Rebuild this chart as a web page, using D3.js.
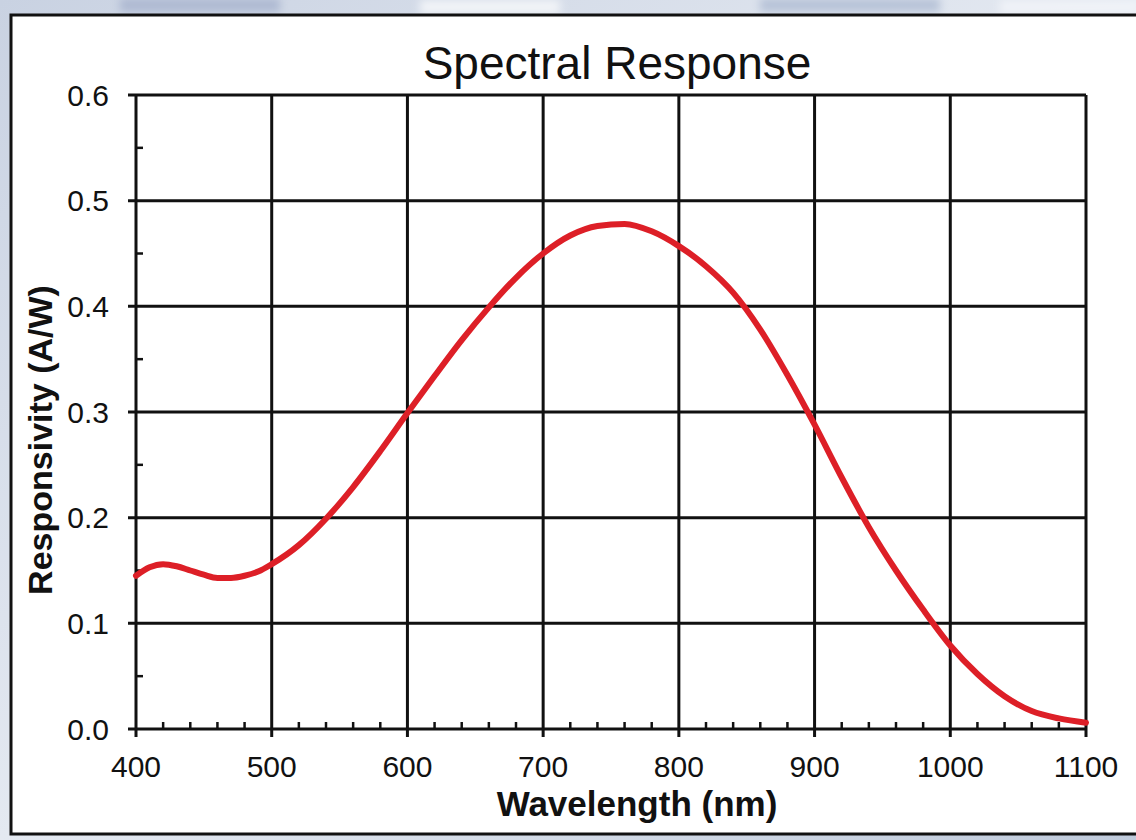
<!DOCTYPE html>
<html>
<head>
<meta charset="utf-8">
<script src="https://cdn.jsdelivr.net/npm/d3@7"></script>
<style>
  html, body { margin: 0; padding: 0; background: #dfe5ee; }
  svg { display: block; }
  text { font-family: "Liberation Sans", Arial, Helvetica, sans-serif; fill: #111; }
</style>
</head>
<body>
<svg id="chart" width="1136" height="840"></svg>
<script>
// Photodiode responsivity vs. wavelength
const wavelengths = [400, 410, 420, 430, 440, 450, 460, 470, 480, 490, 500, 520, 540, 560, 580,
                     600, 620, 640, 660, 680, 700, 720, 740, 760, 780, 800, 820, 840, 860,
                     880, 900, 920, 940, 960, 980, 1000, 1020, 1040, 1060, 1080, 1100];
const responsivity = [0.145, 0.153, 0.156, 0.154, 0.150, 0.146, 0.143, 0.143, 0.145, 0.149, 0.156, 0.174, 0.199, 0.229, 0.263,
                      0.299, 0.334, 0.368, 0.399, 0.427, 0.450, 0.467, 0.476, 0.478, 0.471, 0.457, 0.438, 0.413, 0.378,
                      0.335, 0.288, 0.238, 0.191, 0.150, 0.113, 0.079, 0.052, 0.031, 0.017, 0.010, 0.006];

const xTicks = [400, 500, 600, 700, 800, 900, 1000, 1100];
const yTicks = [0.0, 0.1, 0.2, 0.3, 0.4, 0.5, 0.6];
const xMinorTicks = d3.range(400, 1100, 20).filter(v => v % 100 !== 0);
const yMinorTicks = [0.05, 0.15, 0.25, 0.35, 0.45, 0.55];

const titleText = "Spectral Response";
const xTitle = "Wavelength (nm)";
const yTitle = "Responsivity (A/W)";

const svg = d3.select("#chart");
const W = 1136, H = 840;

// soft backdrop behind the card
const defs = svg.append("defs");
const bg = defs.append("linearGradient").attr("id", "bg").attr("x1", 0).attr("y1", 0).attr("x2", 1).attr("y2", 1);
bg.append("stop").attr("offset", "0%").attr("stop-color", "#c9d2e2");
bg.append("stop").attr("offset", "50%").attr("stop-color", "#e4e9f1");
bg.append("stop").attr("offset", "100%").attr("stop-color", "#bfcadb");
defs.append("filter").attr("id", "soft").append("feGaussianBlur").attr("stdDeviation", 4);
svg.append("rect").attr("width", W).attr("height", H).attr("fill", "url(#bg)");
const blobs = svg.append("g").attr("filter", "url(#soft)");
[[120, 4, 160, "#aeb9d2"], [420, 6, 140, "#f2f4f8"], [760, 4, 180, "#b7c3d8"], [1000, 6, 140, "#f0f3f8"]]
  .forEach(([bx, by, bw, c]) => blobs.append("rect").attr("x", bx).attr("y", by - 6).attr("width", bw).attr("height", 14).attr("fill", c));

// card
svg.append("rect")
  .attr("x", 11).attr("y", 15).attr("width", 1140).attr("height", 819)
  .attr("fill", "#ffffff").attr("stroke", "#111").attr("stroke-width", 3);

// plot area
const plotLeft = 136, plotRight = 1086, plotTop = 95, plotBottom = 729;
const x = d3.scaleLinear().domain([400, 1100]).range([plotLeft, plotRight]);
const y = d3.scaleLinear().domain([0, 0.6]).range([plotBottom, plotTop]);

const g = svg.append("g");

// grid lines
g.selectAll(".vgrid").data(xTicks).join("line")
  .attr("x1", d => x(d)).attr("x2", d => x(d))
  .attr("y1", plotTop).attr("y2", plotBottom + 8)
  .attr("stroke", "#111").attr("stroke-width", 3);
g.selectAll(".hgrid").data(yTicks).join("line")
  .attr("x1", plotLeft - 8).attr("x2", plotRight)
  .attr("y1", d => y(d)).attr("y2", d => y(d))
  .attr("stroke", "#111").attr("stroke-width", 3);

// minor ticks
g.selectAll(".xminor").data(xMinorTicks).join("line")
  .attr("x1", d => x(d)).attr("x2", d => x(d))
  .attr("y1", plotBottom).attr("y2", plotBottom - 7)
  .attr("stroke", "#111").attr("stroke-width", 2.5);
g.selectAll(".yminor").data(yMinorTicks).join("line")
  .attr("x1", plotLeft).attr("x2", plotLeft + 7)
  .attr("y1", d => y(d)).attr("y2", d => y(d))
  .attr("stroke", "#111").attr("stroke-width", 2.5);

// tick labels
g.selectAll(".xlab").data(xTicks).join("text")
  .attr("x", d => x(d)).attr("y", plotBottom + 48)
  .attr("text-anchor", "middle").attr("font-size", 30)
  .text(d => d);
g.selectAll(".ylab").data(yTicks).join("text")
  .attr("x", plotLeft - 27).attr("y", d => y(d)).attr("dy", "0.35em")
  .attr("text-anchor", "end").attr("font-size", 30)
  .text(d => d.toFixed(1));

// response curve
const line = d3.line()
  .x((d, i) => x(wavelengths[i]))
  .y(d => y(d))
  .curve(d3.curveMonotoneX);
g.append("path")
  .attr("d", line(responsivity))
  .attr("fill", "none").attr("stroke", "#dd1f27")
  .attr("stroke-width", 6).attr("stroke-linecap", "round").attr("stroke-linejoin", "round");

// titles
svg.append("text")
  .attr("x", 617).attr("y", 79)
  .attr("text-anchor", "middle").attr("font-size", 46)
  .text(titleText);
svg.append("text")
  .attr("x", 637).attr("y", 816)
  .attr("text-anchor", "middle").attr("font-size", 35).attr("font-weight", "bold")
  .text(xTitle);
svg.append("text")
  .attr("transform", `translate(52, ${(plotTop + plotBottom) / 2 + 28}) rotate(-90)`)
  .attr("text-anchor", "middle").attr("font-size", 34).attr("font-weight", "bold")
  .text(yTitle);
</script>
</body>
</html>
